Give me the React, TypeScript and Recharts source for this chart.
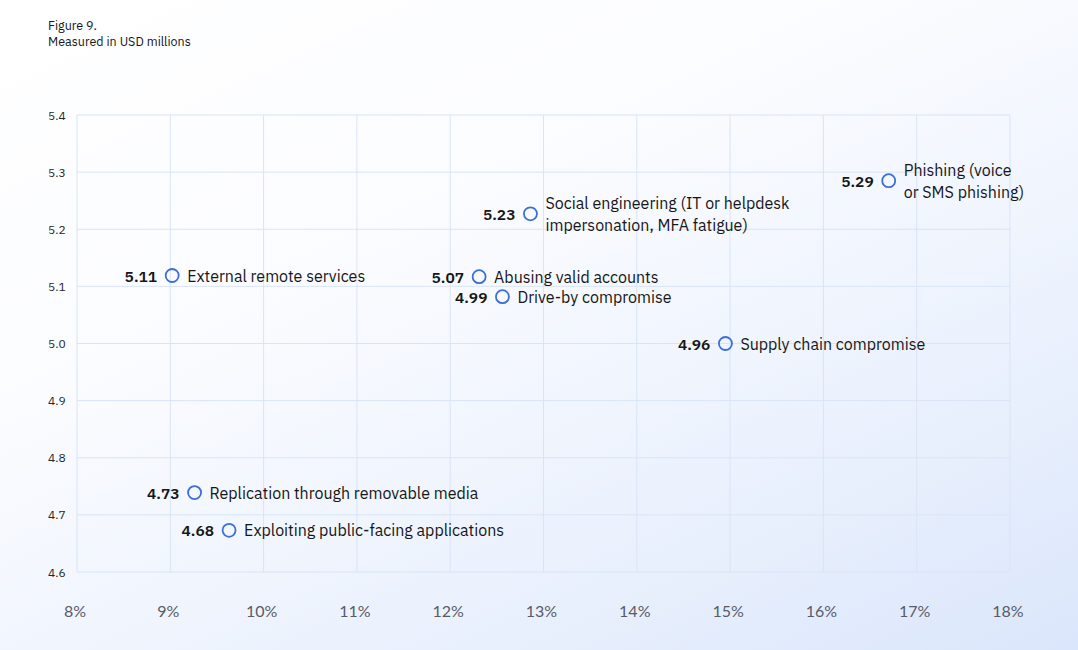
import { ScatterChart, Scatter, XAxis, YAxis, CartesianGrid } from "recharts";

// attack vectors, share of breaches (%) and average cost (USD millions)
const vectors = [
  "Phishing (voice\nor SMS phishing)",
  "Social engineering (IT or helpdesk\nimpersonation, MFA fatigue)",
  "External remote services",
  "Abusing valid accounts",
  "Drive-by compromise",
  "Supply chain compromise",
  "Replication through removable media",
  "Exploiting public-facing applications",
];
const share = [16.7, 12.86, 9.02, 12.31, 12.56, 14.95, 9.26, 9.63];
const plottedCost = [5.285, 5.227, 5.119, 5.117, 5.082, 5.0, 4.739, 4.673];
const costLabels = ["5.29", "5.23", "5.11", "5.07", "4.99", "4.96", "4.73", "4.68"];

const xTicks = [8, 9, 10, 11, 12, 13, 14, 15, 16, 17, 18];
const yTicks = [4.6, 4.7, 4.8, 4.9, 5.0, 5.1, 5.2, 5.3, 5.4];

const data = vectors.map((name, i) => ({
  name,
  share: share[i],
  cost: plottedCost[i],
  label: costLabels[i],
}));

const FONT = "'IBM Plex Sans', 'Noto Sans', sans-serif";
const INK = "#161616";
const BLUE = "#3c6fd9";
const GRID = "#d9e4f6";

const VectorPoint = (props: any) => {
  const { cx, cy, payload } = props;
  const lines: string[] = payload.name.split("\n");
  const offsets = lines.length > 1 ? [-11, 11] : [0];
  return (
    <g>
      <circle cx={cx} cy={cy} r={6.5} fill="none" stroke={BLUE} strokeWidth={1.8} />
      <text
        x={cx - 15}
        y={cy}
        textAnchor="end"
        dominantBaseline="central"
        fontFamily={FONT}
        fontSize={15.5}
        fontWeight={600}
        fill={INK}
      >
        {payload.label}
      </text>
      {lines.map((line, i) => (
        <text
          key={i}
          x={cx + 15}
          y={cy + offsets[i]}
          dominantBaseline="central"
          fontFamily={FONT}
          fontSize={16}
          fill={INK}
        >
          {line}
        </text>
      ))}
    </g>
  );
};

const XTick = (props: any) => {
  const { x, y, payload } = props;
  return (
    <text
      x={x - 2}
      y={y + 38}
      textAnchor="middle"
      dominantBaseline="central"
      fontFamily="Lato, 'Noto Sans', sans-serif"
      fontSize={16}
      fill="#585c66"
    >
      {`${payload.value}%`}
    </text>
  );
};

const YTick = (props: any) => {
  const { y, payload } = props;
  return (
    <text
      x={48}
      y={y}
      dominantBaseline="central"
      fontFamily={FONT}
      fontSize={12}
      fill="#262626"
    >
      {Number(payload.value).toFixed(1)}
    </text>
  );
};

export default function App() {
  return (
    <div
      style={{
        position: "absolute",
        top: 0,
        left: 0,
        width: 1078,
        height: 650,
        background: "linear-gradient(155deg, #ffffff 0%, #fbfcff 35%, #e9f0fd 75%, #dae6fb 100%)",
        overflow: "hidden",
      }}
    >
      <div
        style={{
          position: "absolute",
          top: 17,
          left: 48,
          fontFamily: FONT,
          fontSize: 12.5,
          lineHeight: "16px",
          color: INK,
        }}
      >
        <div>Figure 9.</div>
        <div>Measured in USD millions</div>
      </div>
      <ScatterChart
        width={1078}
        height={650}
        margin={{ top: 115, right: 68, bottom: 0, left: 0 }}
        style={{ position: "absolute", top: 0, left: 0 }}
      >
        <CartesianGrid stroke={GRID} strokeWidth={1} />
        <XAxis
          type="number"
          dataKey="share"
          domain={[8, 18]}
          ticks={xTicks}
          axisLine={false}
          tickLine={false}
          tickSize={0}
          tickMargin={0}
          height={78}
          tick={<XTick />}
          interval={0}
        />
        <YAxis
          type="number"
          dataKey="cost"
          domain={[4.6, 5.4]}
          ticks={yTicks}
          axisLine={false}
          tickLine={false}
          width={77}
          tick={<YTick />}
          interval={0}
        />
        <Scatter data={data} shape={<VectorPoint />} isAnimationActive={false} />
      </ScatterChart>
    </div>
  );
}
